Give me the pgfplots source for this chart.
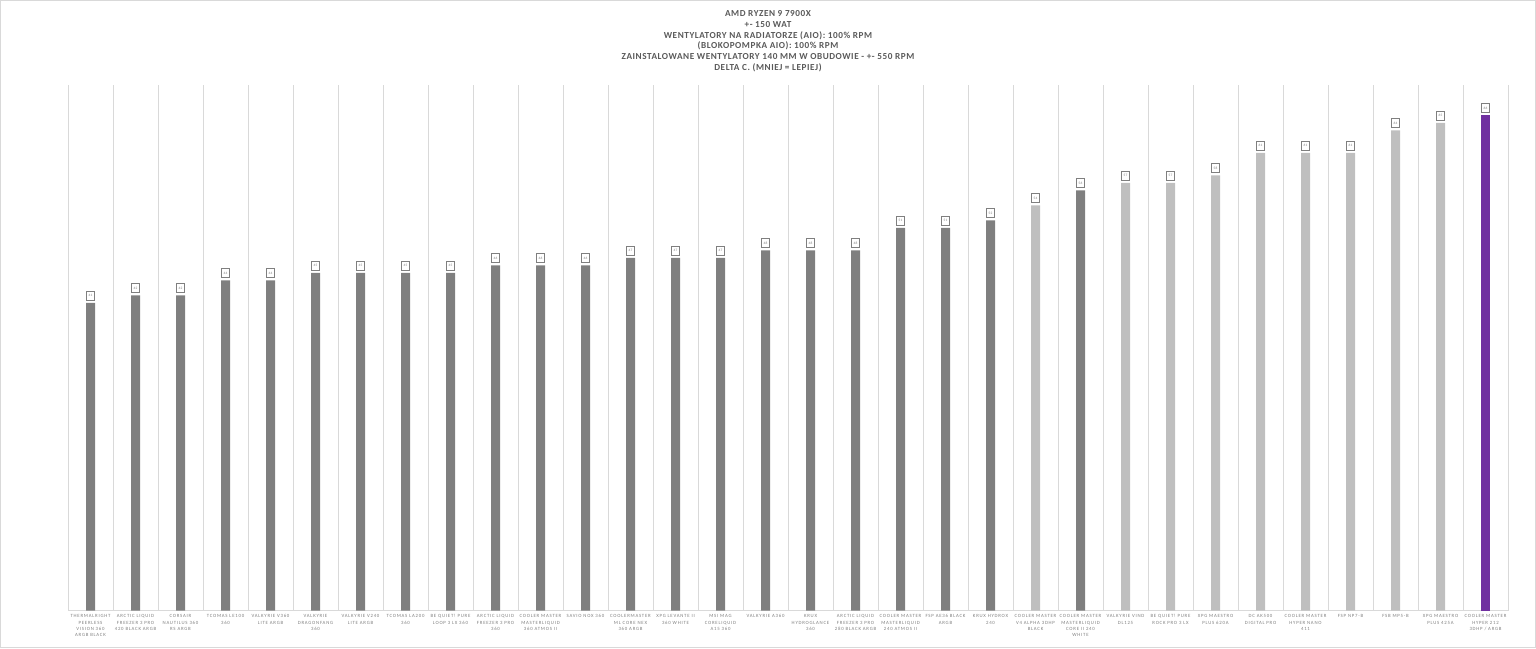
\documentclass[border=0pt]{standalone}
\usepackage{pgfplots}
\pgfplotsset{compat=1.18}
\usepackage{fontspec}
\setmainfont{Carlito}
\newfontfamily\lsfont[LetterSpace=16]{Carlito}
\newfontfamily\lsbold[LetterSpace=6]{Carlito Bold}
\definecolor{bardark}{HTML}{7F7F7F}
\definecolor{barlight}{HTML}{BFBFBF}
\definecolor{barpurple}{HTML}{7030A0}
\definecolor{gridc}{HTML}{D9D9D9}
\definecolor{titlec}{HTML}{595959}
\definecolor{tickc}{HTML}{7F7F7F}
\begin{document}
\begin{tikzpicture}[x=1pt,y=1pt]
\path[draw=gridc,line width=1pt] (0.5,0.5) rectangle (1535.5,647.5);
\node[anchor=north,align=center,text=titlec,font={\lsbold\fontsize{9.2}{10.8}\selectfont}] at (768,641)
{AMD RYZEN 9 7900X\\+- 150 WAT\\WENTYLATORY NA RADIATORZE (AIO): 100\% RPM\\(BLOKOPOMPKA AIO): 100\% RPM\\ZAINSTALOWANE WENTYLATORY 140 MM W OBUDOWIE - +- 550 RPM\\DELTA C. (MNIEJ = LEPIEJ)};
\begin{axis}[
  at={(68pt,37.5pt)}, anchor=south west,
  scale only axis, width=1440pt, height=525pt,
  xmin=-0.5, xmax=31.5, ymin=0, ymax=70,
  axis y line=none, axis x line*=bottom,
  x axis line style={-,draw=gridc,line width=1pt},
  ytick=\empty,
  xtick={0,...,31},
  major tick length=0pt, minor tick length=0pt,
  minor xtick={-0.5,0.5,...,31.5},
  xminorgrids, minor grid style={draw=gridc,line width=0.8pt},
  xticklabels={{THERMALRIGHT\\PEERLESS\\VISION 360\\ARGB BLACK},{ARCTIC LIQUID\\FREEZER 3 PRO\\420 BLACK ARGB},{CORSAIR\\NAUTILUS 360\\RS ARGB},{TCOMAS LE100\\360},{VALKYRIE V360\\LITE ARGB},{VALKYRIE\\DRAGONFANG\\360},{VALKYRIE V240\\LITE ARGB},{TCOMAS LA200\\360},{BE QUIET! PURE\\LOOP 3 LX 360},{ARCTIC LIQUID\\FREEZER 3 PRO\\360},{COOLER MASTER\\MASTERLIQUID\\360 ATMOS II},{SAVIO NOX 360},{COOLERMASTER\\ML CORE NEX\\360 ARGB},{XPG LEVANTE II\\360 WHITE},{MSI MAG\\CORELIQUID\\A15 360},{VALKYRIE A360},{KRUX\\HYDROGLANCE\\360},{ARCTIC LIQUID\\FREEZER 3 PRO\\280 BLACK ARGB},{COOLER MASTER\\MASTERLIQUID\\240 ATMOS II},{FSP AE36 BLACK\\ARGB},{KRUX HYDROX\\240},{COOLER MASTER\\V4 ALPHA 3DHP\\BLACK},{COOLER MASTER\\MASTERLIQUID\\CORE II 240\\WHITE},{VALKYRIE VIND\\DL125},{BE QUIET! PURE\\ROCK PRO 3 LX},{XPG MAESTRO\\PLUS 620A},{DC AK500\\DIGITAL PRO},{COOLER MASTER\\HYPER NANO\\411},{FSP NP7-B},{FSB MP5-B},{XPG MAESTRO\\PLUS 425A},{COOLER MASTER\\HYPER 212\\3DHP / ARGB}},
  xticklabel style={align=center,anchor=north,inner sep=0pt,yshift=-4pt,text=tickc,font={\lsfont\fontsize{4.8}{6.3}\selectfont}},
  ybar, bar width=9pt,
  nodes near coords,
  /pgf/number format/assume math mode=true,
  nodes near coords style={font={\fontsize{3.5}{4}\selectfont},text=tickc,draw=bardark,fill=white,line width=0.8pt,minimum width=8pt,minimum height=9pt,inner sep=0.5pt,anchor=south,yshift=2.5pt},
  clip=false,
]
\addplot[bar shift=0pt,fill=bardark,draw=none] coordinates {
(0,41)(1,42)(2,42)(3,44)(4,44)(5,45)(6,45)(7,45)(8,45)(9,46)(10,46)(11,46)(12,47)(13,47)(14,47)(15,48)(16,48)(17,48)(18,51)(19,51)(20,52)(22,56)};
\addplot[bar shift=0pt,fill=barlight,draw=none] coordinates {
(21,54)(23,57)(24,57)(25,58)(26,61)(27,61)(28,61)(29,64)(30,65)};
\addplot[bar shift=0pt,fill=barpurple,draw=none] coordinates {(31,66)};
\end{axis}
\end{tikzpicture}
\end{document}
